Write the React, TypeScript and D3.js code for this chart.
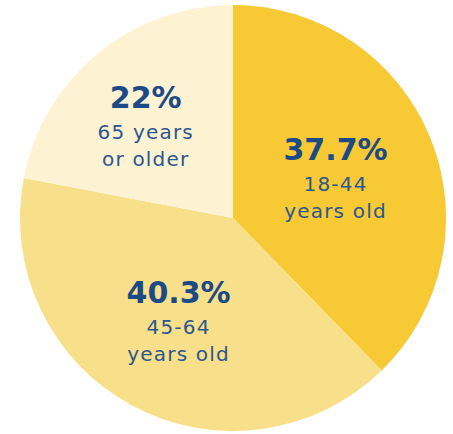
import { useEffect, useRef } from 'react'
import * as d3 from 'd3'

// slice values, clockwise from 12 o'clock
const shares = [37.7, 40.3, 22]
const pctLabels = ['37.7%', '40.3%', '22%']
const ageLines = [
  ['18-44', 'years old'],
  ['45-64', 'years old'],
  ['65 years', 'or older'],
]
const sliceColors = ['#f6c935', '#f8df8a', '#fdf2d2']
// small hand nudges from the arc centroid to where the labels sit
const nudgeX = [-4, 0, -14]
const nudgeY = [16, 15, 10]

const W = 453
const H = 434

export default function App() {
  const svgRef = useRef<SVGSVGElement>(null)

  useEffect(() => {
    if (!svgRef.current) return
    const svg = d3.select(svgRef.current)
    svg.selectAll('*').remove()

    const cx = 233
    const cy = 218
    const radius = 213

    const g = svg.append('g').attr('transform', `translate(${cx},${cy})`)

    const pie = d3.pie<number>().sort(null).value(d => d)
    const arcs = pie(shares)

    const arc = d3.arc<d3.PieArcDatum<number>>().innerRadius(0).outerRadius(radius)
    const labelArc = d3.arc<d3.PieArcDatum<number>>().innerRadius(230).outerRadius(0)

    g.selectAll('path.slice')
      .data(arcs)
      .enter()
      .append('path')
      .attr('class', 'slice')
      .attr('d', arc)
      .style('fill', (_, i) => sliceColors[i])

    const labels = g.selectAll('g.label')
      .data(arcs)
      .enter()
      .append('g')
      .attr('class', 'label')
      .attr('transform', (d, i) => {
        const [x, y] = labelArc.centroid(d)
        return `translate(${x + nudgeX[i]},${y + nudgeY[i]})`
      })
      .style('text-anchor', 'middle')

    labels.append('text')
      .attr('y', -31)
      .style('font-family', '"DejaVu Sans", sans-serif')
      .style('font-weight', '700')
      .style('font-size', '30px')
      .style('fill', '#1b4a87')
      .text((_, i) => pctLabels[i])

    labels.each(function (_, i) {
      const node = d3.select(this)
      ageLines[i].forEach((line, j) => {
        node.append('text')
          .attr('y', j * 27)
          .style('font-family', '"DejaVu Sans", sans-serif')
          .style('font-size', '20px')
          .style('letter-spacing', '1.2px')
          .style('fill', '#2c5790')
          .text(line)
      })
    })
  }, [])

  return (
    <svg
      ref={svgRef}
      width={W}
      height={H}
      style={{ position: 'absolute', left: 0, top: 0, background: '#ffffff' }}
    />
  )
}
